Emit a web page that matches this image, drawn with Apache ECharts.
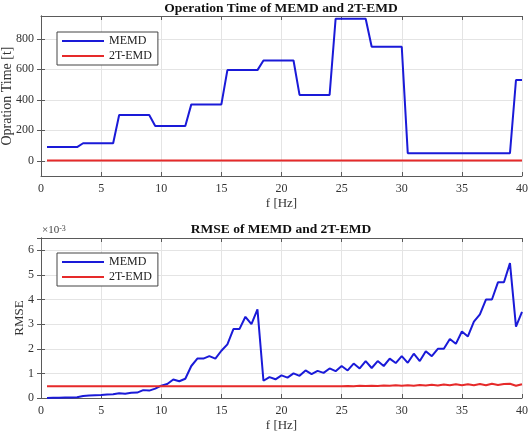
<!DOCTYPE html>
<html>
<head>
<meta charset="utf-8">
<script src="https://cdn.jsdelivr.net/npm/echarts@6/dist/echarts.min.js"></script>
<style>
  html, body { margin: 0; padding: 0; background: #fff; }
  #chart { width: 531px; height: 437px; }
</style>
</head>
<body>
<div id="chart"></div>
<script>
const freq = [
	0.5, 1, 1.5, 2, 2.5, 3, 3.5, 4, 4.5, 5,
	5.5, 6, 6.5, 7, 7.5, 8, 8.5, 9, 9.5, 10,
	10.5, 11, 11.5, 12, 12.5, 13, 13.5, 14, 14.5, 15,
	15.5, 16, 16.5, 17, 17.5, 18, 18.5, 19, 19.5, 20,
	20.5, 21, 21.5, 22, 22.5, 23, 23.5, 24, 24.5, 25,
	25.5, 26, 26.5, 27, 27.5, 28, 28.5, 29, 29.5, 30,
	30.5, 31, 31.5, 32, 32.5, 33, 33.5, 34, 34.5, 35,
	35.5, 36, 36.5, 37, 37.5, 38, 38.5, 39, 39.5, 40
];

const timeMEMD = [
	90, 90, 90, 90, 90, 90, 115, 115, 115, 115,
	115, 115, 300, 300, 300, 300, 300, 300, 228, 228,
	228, 228, 228, 228, 370, 370, 370, 370, 370, 370,
	595, 595, 595, 595, 595, 595, 658, 658, 658, 658,
	658, 658, 432, 432, 432, 432, 432, 432, 932, 932,
	932, 932, 932, 932, 748, 748, 748, 748, 748, 748,
	50, 50, 50, 50, 50, 50, 50, 50, 50, 50,
	50, 50, 50, 50, 50, 50, 50, 50, 530, 530
];

const time2TEMD = [
	2, 2, 2, 2, 2, 2, 2, 2, 2, 2,
	2, 2, 2, 2, 2, 2, 2, 2, 2, 2,
	2, 2, 2, 2, 2, 2, 2, 2, 2, 2,
	2, 2, 2, 2, 2, 2, 2, 2, 2, 2,
	2, 2, 2, 2, 2, 2, 2, 2, 2, 2,
	2, 2, 2, 2, 2, 2, 2, 2, 2, 2,
	2, 2, 2, 2, 2, 2, 2, 2, 2, 2,
	2, 2, 2, 2, 2, 2, 2, 2, 2, 2
];

// RMSE values in units of 1e-3
const rmseMEMD = [
	0.0, 0.01, 0.01, 0.02, 0.02, 0.03, 0.08, 0.1, 0.11, 0.12,
	0.14, 0.15, 0.19, 0.17, 0.21, 0.22, 0.32, 0.3, 0.38, 0.5,
	0.57, 0.75, 0.68, 0.78, 1.3, 1.6, 1.6, 1.7, 1.6, 1.92,
	2.18, 2.8, 2.8, 3.3, 3.0, 3.6, 0.7, 0.85, 0.76, 0.92,
	0.83, 1.0, 0.9, 1.12, 0.97, 1.1, 1.02, 1.2, 1.09, 1.3,
	1.12, 1.4, 1.2, 1.5, 1.22, 1.5, 1.3, 1.6, 1.42, 1.7,
	1.43, 1.8, 1.5, 1.9, 1.7, 2.0, 2.0, 2.4, 2.2, 2.7,
	2.5, 3.1, 3.4, 4.0, 4.0, 4.7, 4.7, 5.48, 2.9, 3.5
];

const rmse2TEMD = [
	0.48, 0.48, 0.48, 0.48, 0.48, 0.48, 0.48, 0.48, 0.48, 0.48,
	0.48, 0.48, 0.48, 0.48, 0.48, 0.48, 0.48, 0.48, 0.48, 0.48,
	0.48, 0.48, 0.48, 0.48, 0.48, 0.48, 0.48, 0.48, 0.48, 0.48,
	0.48, 0.48, 0.48, 0.48, 0.48, 0.48, 0.48, 0.48, 0.48, 0.48,
	0.48, 0.48, 0.48, 0.48, 0.48, 0.48, 0.48, 0.48, 0.48, 0.48,
	0.49, 0.48, 0.5, 0.49, 0.5, 0.49, 0.51, 0.5, 0.52, 0.5,
	0.52, 0.5, 0.53, 0.51, 0.54, 0.51, 0.55, 0.52, 0.56, 0.52,
	0.56, 0.52, 0.57, 0.52, 0.58, 0.53, 0.57, 0.58, 0.5, 0.56
];

const timeTicks = [0, 200, 400, 600, 800];

const font = 'Liberation Serif';
const blue = '#1a1ad8';
const red = '#e62a2a';
const axisColor = '#5a5a5a';

function pairs(xs, ys) {
	return xs.map((x, i) => [x, ys[i]]);
}

function xAxisFor(gridIndex, showLabels) {
	return {
		type: 'value', gridIndex: gridIndex, min: 0, max: 40, interval: 5,
		position: showLabels ? 'bottom' : 'top',
		name: showLabels ? 'f [Hz]' : '',
		nameLocation: 'middle', nameGap: 21,
		nameTextStyle: { fontFamily: font, fontSize: 13, color: '#333' },
		axisLine: { show: true, onZero: false, lineStyle: { color: axisColor } },
		axisTick: { show: true, inside: true, length: 4, lineStyle: { color: axisColor } },
		axisLabel: { show: showLabels, fontFamily: font, fontSize: 12, color: '#333', margin: 7 },
		splitLine: { show: showLabels, lineStyle: { color: '#e4e4e4' } }
	};
}

function legendAt(top) {
	return {
		data: ['MEMD', '2T-EMD'], orient: 'vertical', left: 57, top: top, padding: [3, 6, 3, 5],
		itemGap: 3, itemWidth: 42, itemHeight: 2, icon: 'rect',
		backgroundColor: '#fff', borderColor: '#444', borderWidth: 1, borderRadius: 0,
		textStyle: { fontFamily: font, fontSize: 12, color: '#222', padding: [0, 0, 0, 0] }
	};
}

const chart = echarts.init(document.getElementById('chart'));
chart.setOption({
	animation: false,
	backgroundColor: '#fff',
	title: [
		{ text: 'Operation Time of MEMD and 2T-EMD', left: 281, top: 2, padding: 0, textAlign: 'center',
			textStyle: { fontFamily: font, fontSize: 13.5, fontWeight: 'bold', color: '#111' } },
		{ text: 'RMSE of MEMD and 2T-EMD', left: 281, top: 223, padding: 0, textAlign: 'center',
			textStyle: { fontFamily: font, fontSize: 13.5, fontWeight: 'bold', color: '#111' } },
		{ text: '×10{s|-3}', left: 42, top: 225, padding: 0,
			textStyle: { fontFamily: font, fontSize: 11, fontWeight: 'normal', color: '#444',
				rich: { s: { fontFamily: font, fontSize: 8, color: '#444', verticalAlign: 'top', lineHeight: 10 } } } }
	],
	legend: [legendAt(32), legendAt(253)],
	grid: [
		{ left: 41, top: 16, width: 481, height: 160, outerBoundsMode: 'none' },
		{ left: 41, top: 238, width: 481, height: 160, outerBoundsMode: 'none' }
	],
	xAxis: [xAxisFor(0, true), xAxisFor(0, false), xAxisFor(1, true), xAxisFor(1, false)],
	yAxis: [
		{ type: 'value', gridIndex: 0, min: -100, max: 950,
			name: 'Opration Time [t]', nameLocation: 'middle', nameGap: 27, nameMoveOverlap: false,
			nameTextStyle: { fontFamily: font, fontSize: 14, color: '#333' },
			axisLine: { show: true, lineStyle: { color: axisColor } },
			axisTick: { show: true, inside: true, length: 4, customValues: timeTicks, lineStyle: { color: axisColor } },
			axisLabel: { fontFamily: font, fontSize: 12, color: '#333', margin: 7, customValues: timeTicks },
			splitLine: { show: true, lineStyle: { color: '#e4e4e4' } } },
		{ type: 'value', gridIndex: 0, min: -100, max: 950, position: 'right',
			axisLine: { show: true, lineStyle: { color: axisColor } },
			axisTick: { show: true, inside: true, length: 4, customValues: timeTicks, lineStyle: { color: axisColor } },
			axisLabel: { show: false },
			splitLine: { show: false } },
		{ type: 'value', gridIndex: 1, min: 0, max: 6.5, interval: 1,
			name: 'RMSE', nameLocation: 'middle', nameGap: 15, nameMoveOverlap: false,
			nameTextStyle: { fontFamily: font, fontSize: 13, color: '#333' },
			axisLine: { show: true, lineStyle: { color: axisColor } },
			axisTick: { show: true, inside: true, length: 4, lineStyle: { color: axisColor } },
			axisLabel: { fontFamily: font, fontSize: 12, color: '#333', margin: 7, showMaxLabel: false },
			splitLine: { show: true, lineStyle: { color: '#e4e4e4' } } },
		{ type: 'value', gridIndex: 1, min: 0, max: 6.5, interval: 1, position: 'right',
			axisLine: { show: true, lineStyle: { color: axisColor } },
			axisTick: { show: true, inside: true, length: 4, lineStyle: { color: axisColor } },
			axisLabel: { show: false },
			splitLine: { show: false } }
	],
	series: [
		{ name: 'MEMD', type: 'line', xAxisIndex: 0, yAxisIndex: 0, symbol: 'none',
			lineStyle: { color: blue, width: 2 }, itemStyle: { color: blue },
			data: pairs(freq, timeMEMD) },
		{ name: '2T-EMD', type: 'line', xAxisIndex: 0, yAxisIndex: 0, symbol: 'none',
			lineStyle: { color: red, width: 2 }, itemStyle: { color: red },
			data: pairs(freq, time2TEMD) },
		{ name: 'MEMD', type: 'line', xAxisIndex: 2, yAxisIndex: 2, symbol: 'none',
			lineStyle: { color: blue, width: 2 }, itemStyle: { color: blue },
			data: pairs(freq, rmseMEMD) },
		{ name: '2T-EMD', type: 'line', xAxisIndex: 2, yAxisIndex: 2, symbol: 'none',
			lineStyle: { color: red, width: 2 }, itemStyle: { color: red },
			data: pairs(freq, rmse2TEMD) }
	]
});
</script>
</body>
</html>
